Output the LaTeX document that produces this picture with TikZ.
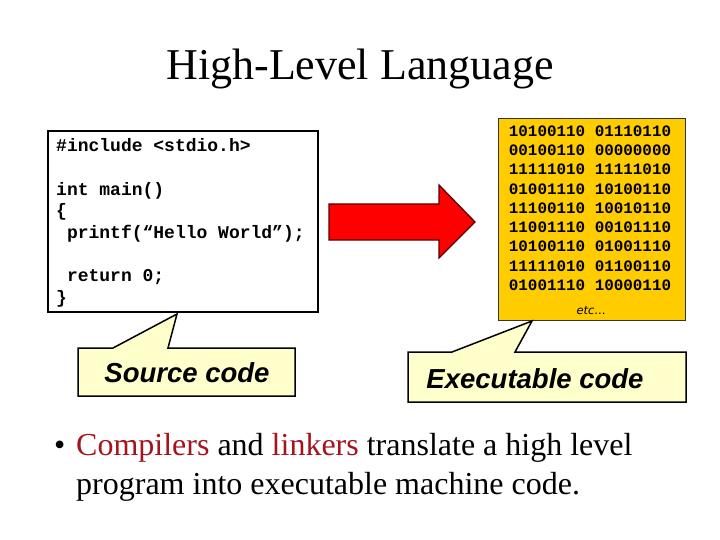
\documentclass[tikz,border=0pt]{standalone}
\usepackage{fontspec}
\setmainfont{Liberation Serif}
\setsansfont{Liberation Sans}
\setmonofont{Liberation Mono}
\newfontfamily\dejavu{DejaVu Sans}
\definecolor{gold}{RGB}{255,204,0}
\definecolor{paleyel}{RGB}{255,255,204}
\definecolor{darkred}{RGB}{165,20,30}
\definecolor{arrowedge}{RGB}{90,0,0}
\tikzset{
  codeline/.style={anchor=base west, inner sep=0pt, font=\ttfamily\bfseries\fontsize{18}{21.6}\selectfont},
  binline/.style={anchor=base, inner sep=0pt, font=\ttfamily\bfseries\fontsize{15.9}{19}\selectfont},
  callout/.style={fill=paleyel, draw=black, line width=1.5pt, line join=miter},
  callouttext/.style={anchor=base, inner sep=0pt, font=\sffamily\bfseries\itshape\fontsize{27.5}{32}\selectfont},
}
\begin{document}
\begin{tikzpicture}[x=1pt,y=-1pt]
\useasboundingbox (0,0) rectangle (720,540);
% title
\node[anchor=base, inner sep=0pt, font=\fontsize{44}{50}\selectfont] (title) at (360,80) {High-Level Language};
% code box
\draw[line width=2pt] (48,131) rectangle (318,312);
\node[codeline] (c1) at (56,152) {\#include <stdio.h>};
\node[codeline] (c2) at (56,195.2) {int main()};
\node[codeline] (c3) at (56,216.8) {\{};
\node[codeline] (c4) at (56,238.4) {\ printf(“Hello World”);};
\node[codeline] (c5) at (56,281.6) {\ return 0;};
\node[codeline] (c6) at (56,303.2) {\}};
% binary box
\draw[fill=gold, draw=black!80, line width=0.8pt] (498,118) rectangle (685,320);
\foreach \t [count=\i] in {10100110 01110110,00100110 00000000,11111010 11111010,01001110 10100110,11100110 10010110,11001110 00101110,10100110 01001110,11111010 01100110,01001110 10000110}{
  \node[binline] (b\i) at (590,{130.7+(\i-1)*19.25+5.6}) {\t};
}
\node[anchor=center, inner sep=0pt, font=\dejavu\fontsize{11.5}{13}\selectfont] (etc) at (591,311) {\textit{etc}...};
% red arrow
\draw[fill=red, draw=arrowedge, line width=1.3pt, line join=miter]
  (329,204) -- (439,204) -- (439,185) -- (475,222) -- (439,258) -- (439,240) -- (329,240) -- cycle;
% callouts
\draw[callout] (78,348) -- (113,348) -- (177,314) -- (168,348) -- (295,348) -- (295,396) -- (78,396) -- cycle;
\node[callouttext] (src) at (187,382) {Source code};
\draw[callout] (408,352) -- (452,352) -- (532,321) -- (515,352) -- (686,352) -- (686,402) -- (408,402) -- cycle;
\node[callouttext] (exe) at (535,388) {Executable code};
% bullet
\node[anchor=base west, inner sep=0pt, font=\fontsize{32}{39}\selectfont] (bul) at (54,455) {•};
\node[anchor=base west, inner sep=0pt, font=\fontsize{32}{39}\selectfont] (l1) at (76,455) {\textcolor{darkred}{Compilers} and \textcolor{darkred}{linkers} translate a high level};
\node[anchor=base west, inner sep=0pt, font=\fontsize{32}{39}\selectfont] (l2) at (76,494) {program into executable machine code.};
\end{tikzpicture}
\end{document}
